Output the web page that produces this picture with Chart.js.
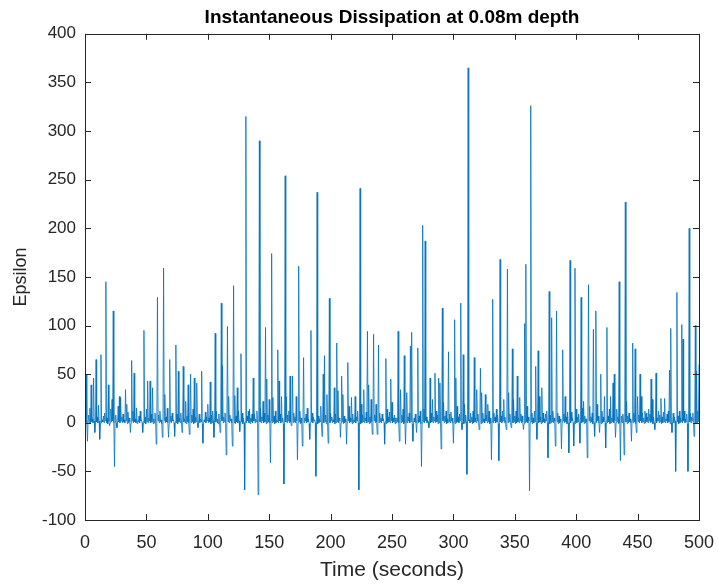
<!DOCTYPE html>
<html>
<head>
<meta charset="utf-8">
<script src="https://cdn.jsdelivr.net/npm/chart.js@4/dist/chart.umd.min.js"></script>
<style>
  html, body { margin: 0; padding: 0; background: #fff; }
  #wrap { width: 718px; height: 588px; }
</style>
</head>
<body>
<div id="wrap"><canvas id="dissChart"></canvas></div>
<script>
// Epsilon, one sample every half second (t = 0 .. 500 s)
// each row = 10 seconds
const epsilon = [
  12, 1, 50, 0, -19, 2, 8, 0, 15, -1, 39, 1, 4, 0, 46, 2, -10, 0, 65, 1,
  6, 0, 18, 2, -17, -1, 70, 0, 3, 1, 7, 0, 10, 2, 145, 0, 5, -1, 39, 1,
  -3, 0, 14, 1, 24, 2, 115, 0, -45, 1, 8, 0, -5, -1, 17, 1, 27, 0, 26, 2,
  6, 0, 9, 1, 3, 0, 34, 2, 19, -1, 11, 0, 5, 1, -10, 0, 64, 2, 12, 0,
  51, 1, 4, 0, 15, -1, 2, 1, 7, 0, 12, 2, 3, 0, -10, 1, 95, 0, 6, -1,
  14, 1, 43, 0, 5, 2, 43, 0, 9, 1, 36, -1, 4, 0, 10, 1, -22, 0, 129, 2,
  8, 0, 12, 1, 3, -1, -15, 0, 159, 2, 29, 0, 6, 1, 15, 0, -15, -1, 65, 1,
  7, 0, 10, 2, 3, 0, -14, 1, 80, 0, 9, -1, 53, 1, 5, 0, 10, 2, -10, 0,
  58, 1, 4, 0, 22, -1, 7, 1, 39, 0, -12, 2, 50, 0, 8, 1, 14, -1, 46, 0,
  6, 1, 41, 0, -5, 2, 9, 0, 4, 1, 53, -1, -21, 0, 3, 1, 11, 0, 6, 2,
  19, 0, 5, 1, 42, -1, 8, 0, 12, 2, -15, 0, 92, 1, 12, 0, 4, -1, 9, 1,
  -10, 0, 123, 2, 59, 0, 6, 1, 10, -1, -33, 0, 99, 1, 27, 0, 8, 2, 4, 0,
  -24, 1, 141, 0, 28, -1, 7, 1, 36, 0, 12, 2, -9, 0, 71, 1, 10, -1, 5, 0,
  -69, 1, 315, 0, 7, 2, 12, 0, 14, -1, 5, 1, 9, 0, 46, 2, 9, 0, 4, 1,
  12, 0, -74, -1, 290, 1, 15, 0, 6, 2, 22, 0, 10, 1, 98, -1, 45, 0, 8, 1,
  24, 0, -41, 2, 174, 0, 26, 1, 7, -1, 12, 0, 3, 1, 75, 0, 43, 2, 9, 0,
  27, 1, 5, -1, -63, 0, 254, 1, 27, 0, 8, 2, 12, 0, 48, 1, -3, -1, 48, 0,
  10, 1, 6, 0, 27, 2, -38, 0, 161, 1, 12, -1, 5, 0, -24, 1, 67, 0, 5, 2,
  9, 0, 15, 1, 4, -1, -17, 0, 95, 1, 10, 0, 6, 2, 3, 0, -55, 1, 237, -1,
  7, 0, 4, 1, 17, 0, -14, 2, 50, 0, 69, 1, 8, -1, 29, 0, -21, 1, 128, 0,
  10, 2, 6, 0, 3, 1, 36, -1, 9, 0, 82, 1, 33, 0, 5, 2, -15, 0, 48, 1,
  29, -1, 7, 0, 4, 1, -22, 0, 62, 2, 17, 0, 5, 1, 26, -1, 9, 0, 3, 1,
  27, 0, 6, 2, 12, 0, -69, 1, 241, -1, 19, 0, 8, 1, 34, 0, 5, 2, 11, 0,
  94, 1, 39, -1, 6, 0, 24, 1, -12, 0, 91, 2, 8, 0, 19, 1, -12, -1, 80, 0,
  10, 1, 5, 0, 9, 2, 4, 0, -22, 1, 66, -1, 14, 0, 6, 1, 11, 0, 45, 2,
  21, 0, 5, 1, 8, -1, 5, 0, 5, 1, 94, 0, -19, 2, 34, 0, 8, 1, 14, -1,
  69, 0, -22, 1, 31, 0, 6, 2, 10, 0, 79, 1, 93, -1, -19, 0, 5, 1, 9, 0,
  -10, 2, 77, 0, 7, 1, 12, -1, -45, 0, 203, 1, 14, 0, 187, 2, 6, 0, 3, 1,
  -5, -1, 46, 0, 10, 1, 24, 0, 6, 2, 51, 0, 12, 1, 8, -1, 46, 0, 41, 1,
  -27, 0, 118, 2, 21, 0, 7, 1, 12, -1, 4, 0, 73, 1, 9, 0, 11, 2, 5, 0,
  -21, 1, 106, -1, 46, 0, 17, 1, 6, 0, 9, 2, 123, 0, -7, 1, 70, -1, 19, 0,
  8, 1, -53, 0, 365, 2, 3, 0, 10, 1, 6, -1, 12, 0, 67, 1, 5, 0, 34, 2,
  9, 0, -7, 1, 56, -1, 31, 0, 10, 1, 4, 0, 29, 2, 8, 0, 19, 1, 12, -1,
  5, 0, -38, 1, 127, 0, 10, 2, 6, 0, 14, 1, 8, -1, -39, 0, 168, 1, 7, 0,
  12, 2, 24, 0, 6, 1, -7, -1, 158, 0, 31, 1, 9, 0, -5, 2, 76, 0, 24, 1,
  7, -1, 12, 0, 48, 1, 5, 0, 26, 2, 9, 0, 7, 1, -7, -1, 102, 0, 163, 1,
  17, 0, 6, 2, -70, 0, 326, 1, 10, -1, 5, 0, 12, 1, 58, 0, -17, 2, 74, 0,
  27, 1, 6, -1, 36, 0, 10, 1, 4, 0, 9, 2, 12, 0, -36, 1, 135, -1, 8, 0,
  108, 1, 12, 0, 5, 2, -24, 0, 115, 1, 10, -1, 7, 0, 4, 1, -27, 0, 75, 2,
  9, 0, 27, 1, 6, -1, 11, 0, -31, 1, 167, 0, 11, 2, 5, 0, -24, 1, 159, -1,
  14, 0, 6, 1, 9, 0, -21, 2, 129, 0, 15, 1, 22, -1, 7, 0, 4, 1, -36, 0,
  142, 2, 17, 0, 6, 1, 10, -1, 96, 0, -14, 1, 115, 0, 19, 2, 7, 0, -10, 1,
  50, -1, 12, 0, 6, 1, 27, 0, -26, 2, 98, 0, 7, 1, 14, -1, 27, 0, 5, 1,
  41, 0, 50, 2, -15, 0, 14, 1, 6, -1, 145, 0, -39, 1, 7, 0, 9, 2, -33, 0,
  227, 1, 22, -1, 7, 0, 10, 1, 4, 0, -19, 2, 82, 0, 10, 1, 76, -1, -10, 0,
  27, 1, 8, 0, 50, 2, 27, 0, 10, 1, 5, -1, 12, 0, 10, 1, 6, 0, 14, 2,
  9, 0, 45, 1, 24, -1, 6, 0, -7, 1, 51, 0, 5, 2, 12, 0, 8, 1, 25, -1,
  6, 0, 11, 1, 25, 0, 4, 2, 9, 0, 12, 1, 54, -1, 97, 0, -10, 1, 10, 0,
  6, 2, -50, 0, 134, 1, 7, -1, 12, 0, 5, 1, 101, 0, 86, 2, 12, 0, 4, 1,
  9, -1, -50, 0, 200, 1, 10, 0, 6, 2, 10, 0, -14, 1, 100, -1, 53, 0, 12, 1,
  60
];
const sampleStep = 0.5; // seconds between samples
const xRange = [0, 500];
const yRange = [-100, 400];

const axisColor = '#262626';
const fontFamily = 'Liberation Sans, Arial, Helvetica, sans-serif';

// MATLAB style box with ticks pointing inwards on all four sides
const boxPlugin = {
  id: 'matlabBox',
  afterDatasetsDraw(chart) {
    const { ctx, chartArea: a, scales } = chart;
    const len = 6;
    ctx.save();
    ctx.strokeStyle = axisColor;
    ctx.lineWidth = 1;
    ctx.beginPath();
    scales.x.ticks.forEach(t => {
      const px = Math.round(scales.x.getPixelForValue(t.value)) + 0.5;
      ctx.moveTo(px, a.bottom); ctx.lineTo(px, a.bottom - len);
      ctx.moveTo(px, a.top); ctx.lineTo(px, a.top + len);
    });
    scales.y.ticks.forEach(t => {
      const py = Math.round(scales.y.getPixelForValue(t.value)) + 0.5;
      ctx.moveTo(a.left, py); ctx.lineTo(a.left + len, py);
      ctx.moveTo(a.right, py); ctx.lineTo(a.right - len, py);
    });
    ctx.stroke();
    ctx.strokeRect(Math.round(a.left) + 0.5, Math.round(a.top) + 0.5,
      Math.round(a.right - a.left), Math.round(a.bottom - a.top));
    ctx.restore();
  }
};

new Chart(document.getElementById('dissChart'), {
  type: 'line',
  data: {
    datasets: [{
      data: epsilon.map((v, i) => ({ x: i * sampleStep, y: v })),
      borderColor: 'rgba(0, 114, 189, 0.8)',
      borderWidth: 1,
      pointRadius: 0,
      tension: 0,
      fill: false
    }]
  },
  options: {
    responsive: true,
    maintainAspectRatio: false,
    animation: false,
    layout: { padding: { left: 0, right: 19, top: 0, bottom: 0 } },
    plugins: {
      legend: { display: false },
      tooltip: { enabled: false },
      title: {
        display: true,
        fullSize: false,
        text: 'Instantaneous Dissipation at 0.08m depth',
        color: '#000',
        font: { family: fontFamily, size: 19, weight: 'bold' },
        padding: { top: 6, bottom: 5 }
      }
    },
    scales: {
      x: {
        type: 'linear',
        min: xRange[0],
        max: xRange[1],
        grid: { display: false, drawTicks: false },
        border: { display: false },
        ticks: {
          stepSize: 50,
          maxRotation: 0,
          padding: 12,
          color: axisColor,
          font: { family: fontFamily, size: 18 }
        },
        title: {
          display: true,
          text: 'Time (seconds)',
          color: axisColor,
          font: { family: fontFamily, size: 21 },
          padding: { top: 0, bottom: 5 }
        },
        afterFit: s => { s.height = 68; s.paddingLeft = 0; s.paddingRight = 0; }
      },
      y: {
        min: yRange[0],
        max: yRange[1],
        grid: { display: false, drawTicks: false },
        border: { display: false },
        ticks: {
          stepSize: 50,
          padding: 9,
          color: axisColor,
          font: { family: fontFamily, size: 17 }
        },
        title: {
          display: true,
          text: 'Epsilon',
          color: axisColor,
          font: { family: fontFamily, size: 18 },
          padding: { top: 10, bottom: 0 }
        },
        afterFit: s => { s.width = 85; s.paddingTop = 0; s.paddingBottom = 0; }
      }
    }
  },
  plugins: [boxPlugin]
});
</script>
</body>
</html>
